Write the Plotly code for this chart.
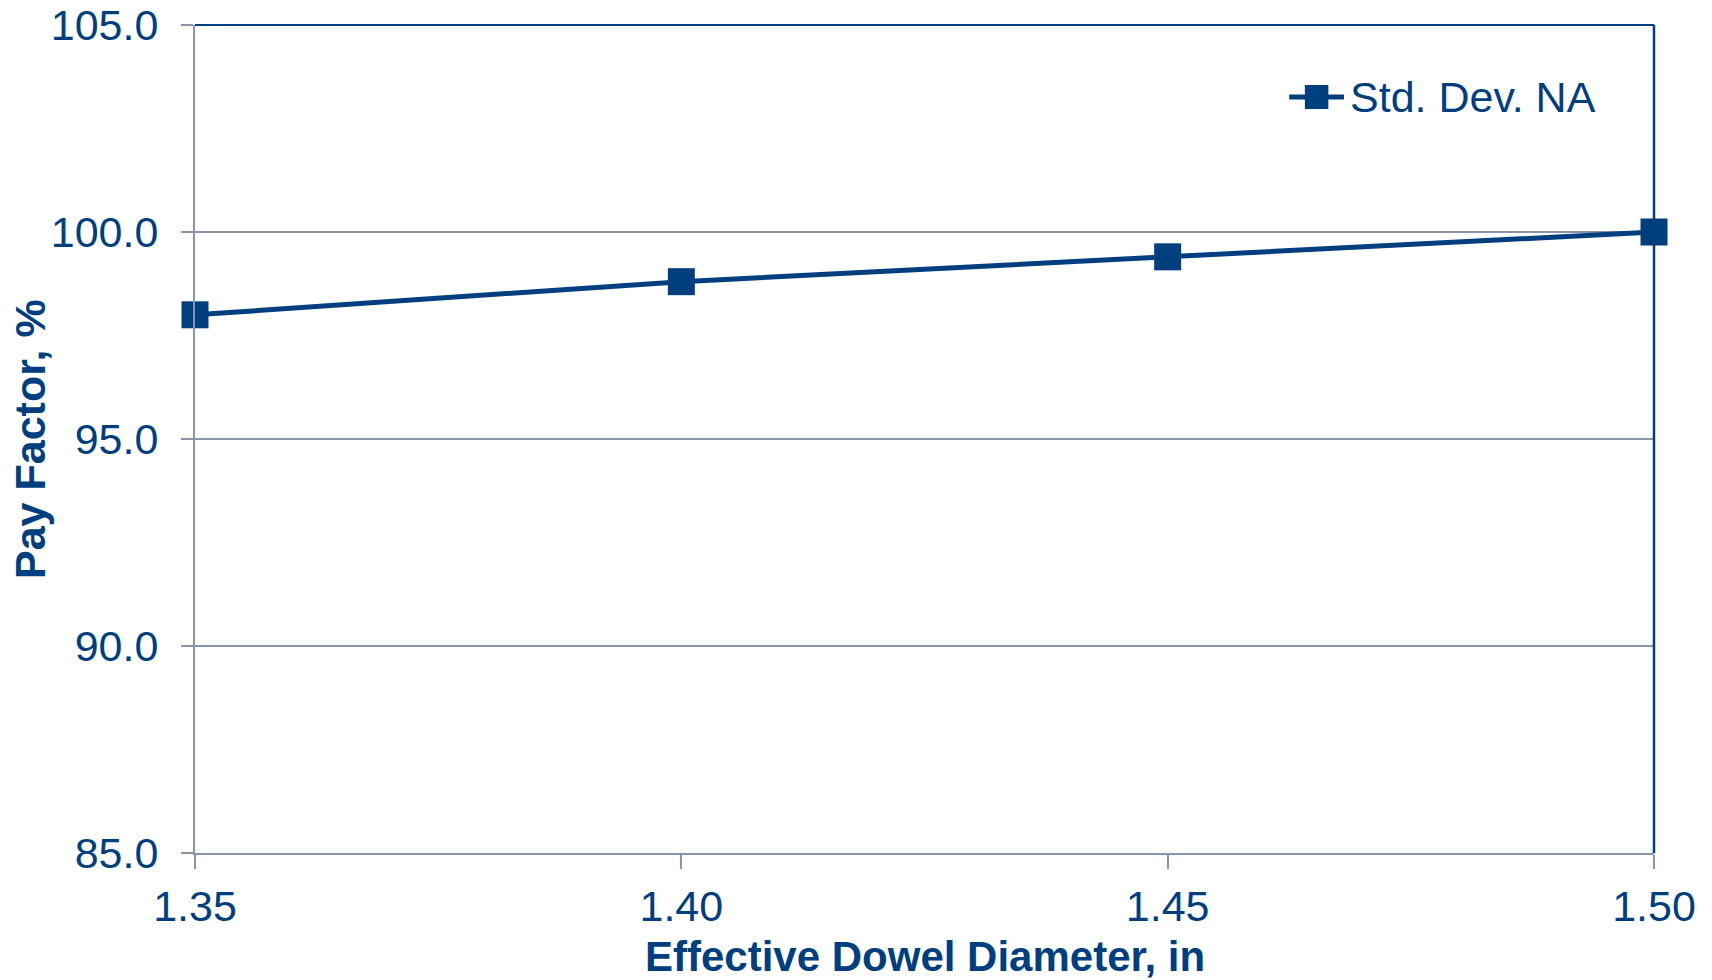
import plotly.graph_objects as go

# Effective dowel diameter (in) vs. pay factor (%)
diameters = [1.35, 1.40, 1.45, 1.50]
pay_factor = [98.0, 98.8, 99.4, 100.0]
series_name = "Std. Dev. NA"
x_title = "Effective Dowel Diameter, in"
y_title = "Pay Factor, %"

x_ticks = [1.35, 1.40, 1.45, 1.50]
x_tick_text = ["1.35", "1.40", "1.45", "1.50"]
y_ticks = [85.0, 90.0, 95.0, 100.0, 105.0]
y_tick_text = ["85.0", "90.0", "95.0", "100.0", "105.0"]

NAVY = "#003f7f"
GRID = "#8a94ac"
FONT = "Liberation Sans, Arial, sans-serif"

fig = go.Figure()
fig.add_trace(go.Scatter(
    x=diameters, y=pay_factor, name=series_name,
    mode="lines+markers",
    line=dict(color=NAVY, width=5),
    marker=dict(symbol="square", size=27, color=NAVY),
    cliponaxis=False, showlegend=False,
))

fig.update_layout(
    width=1712, height=980,
    margin=dict(l=195, r=58, t=25, b=127, autoexpand=False),
    paper_bgcolor="white", plot_bgcolor="white",
    font=dict(family=FONT, color=NAVY, size=40),
    showlegend=False,
    xaxis=dict(
        range=[1.35, 1.50], tickvals=x_ticks, ticktext=x_tick_text,
        showgrid=False, zeroline=False, automargin=False,
        showline=True, linecolor=GRID, linewidth=2,
        ticks="outside", ticklen=14, tickwidth=2, tickcolor=GRID,
        tickfont=dict(size=43, color=NAVY),
    ),
    yaxis=dict(
        range=[85, 105], tickvals=y_ticks, ticktext=y_tick_text,
        showgrid=True, gridcolor=GRID, gridwidth=1.5, zeroline=False,
        automargin=False,
        showline=True, linecolor=GRID, linewidth=2,
        ticks="outside", ticklen=12, tickwidth=2, tickcolor=GRID,
        ticklabelstandoff=14,
        tickfont=dict(size=43, color=NAVY),
    ),
)

# axis titles
fig.add_annotation(text=f"<b>{x_title}</b>", xref="paper", yref="paper",
                   x=0.5, y=-0.1255, xanchor="center", yanchor="middle",
                   showarrow=False, font=dict(size=42, color=NAVY))
fig.add_annotation(text=f"<b>{y_title}</b>", xref="paper", yref="paper",
                   x=-0.1131, y=0.5, xanchor="center", yanchor="middle",
                   textangle=-90, showarrow=False, font=dict(size=43, color=NAVY))

# top and right frame edges in navy
fig.add_shape(type="line", xref="paper", yref="paper", x0=0, x1=1, y0=1, y1=1,
              line=dict(color=NAVY, width=2))
fig.add_shape(type="line", xref="paper", yref="paper", x0=1, x1=1, y0=0, y1=1,
              line=dict(color=NAVY, width=2.5))

# legend key: line with square marker, followed by the series name
LEG_Y = 0.913
fig.add_shape(type="line", xref="paper", yref="paper",
              x0=0.75, x1=0.7875, y0=LEG_Y, y1=LEG_Y,
              line=dict(color=NAVY, width=5))
fig.add_shape(type="rect", xref="paper", yref="paper",
              x0=0.7607, x1=0.7768, y0=LEG_Y - 0.0145, y1=LEG_Y + 0.0145,
              line=dict(width=0), fillcolor=NAVY)
fig.add_annotation(text=series_name, xref="paper", yref="paper",
                   x=0.7905, y=LEG_Y, xanchor="left", yanchor="middle",
                   showarrow=False, font=dict(size=43, color=NAVY))

fig.write_html("out.html")
